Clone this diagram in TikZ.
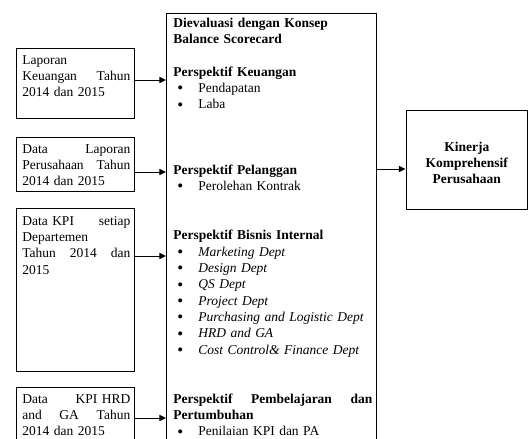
\documentclass[tikz,border=0pt]{standalone}
\usepackage{fontspec}
\setmainfont{Liberation Serif}
\usetikzlibrary{arrows.meta}
\newdimen\pxu \pxu=0.75pt
\newcommand\bitem[1]{\hspace*{4\pxu}\makebox[21\pxu][l]{\raisebox{-1.3\pxu}{\scalebox{1.25}{\textbullet}}}#1}
\begin{document}
\begin{tikzpicture}[x=0.75pt,y=-0.75pt,
  box/.style={draw=black, line width=0.75pt, inner sep=0pt},
  txt/.style={inner sep=0pt, anchor=base west, align=left, text width=81pt,
    font=\fontsize{10.125pt}{12.27pt}\selectfont},
  midtxt/.style={txt, text width=149.25pt},
  arr/.style={line width=0.75pt, -{Triangle[length=5pt,width=4.6pt]}}]
\useasboundingbox (0,0) rectangle (529,439);
\fill[white] (0,0) rectangle (529,439);
\clip (0,0) rectangle (529,439);

% boxes
\node[box, minimum width=88.5pt, minimum height=52.5pt] (b1) at (75,83) {};
\node[box, minimum width=88.5pt, minimum height=40.5pt] (b2) at (75,164) {};
\node[box, minimum width=88.5pt, minimum height=122.25pt] (b3) at (75,289.5) {};
\node[box, minimum width=88.5pt, minimum height=62.25pt] (b4) at (75,428.5) {};
\node[box, minimum width=157.125pt, minimum height=342.75pt] (mid) at (271.25,241.5) {};
\node[box, minimum width=91.125pt, minimum height=74.25pt] (rb) at (466.75,159.5) {};

% texts
\node[txt] (t1) at (22,64) {Laporan\\Keuangan\hfill Tahun\\2014 dan 2015};
\node[txt] (t2) at (22,153) {Data\hfill Laporan\\Perusahaan\hfill Tahun\\2014 dan 2015};
\node[txt] (t3) at (22,225) {Data KPI\hfill setiap\\Departemen\\Tahun\hfill 2014\hfill dan\\2015};
\node[txt] (t4) at (22,403) {Data\hfill KPI HRD\\and\hfill GA\hfill Tahun\\2014 dan 2015};

\node[midtxt] (mt) at (173,27) {%
\textbf{Dievaluasi dengan Konsep}\\
\textbf{Balance Scorecard}\\
\mbox{}\\
\textbf{Perspektif Keuangan}\\
\bitem{Pendapatan}\\
\bitem{Laba}\\
\mbox{}\\
\mbox{}\\
\mbox{}\\
\textbf{Perspektif Pelanggan}\\
\bitem{Perolehan Kontrak}\\
\mbox{}\\
\mbox{}\\
\textbf{Perspektif Bisnis Internal}\\
\bitem{\textit{Marketing Dept}}\\
\bitem{\textit{Design Dept}}\\
\bitem{\textit{QS Dept}}\\
\bitem{\textit{Project Dept}}\\
\bitem{\textit{Purchasing and Logistic Dept}}\\
\bitem{\textit{HRD and GA}}\\
\bitem{\textit{Cost Control\& Finance Dept}}\\
\mbox{}\\
\mbox{}\\
\textbf{Perspektif\hfill Pembelajaran\hfill dan}\\
\textbf{Pertumbuhan}\\
\bitem{Penilaian KPI dan PA}};

\node[txt, anchor=base, text width=82pt, align=center, font=\fontsize{10.125pt}{12.27pt}\selectfont\bfseries] (rt) at (466.75,151) {Kinerja\\Komprehensif\\Perusahaan};

% arrow levels
\coordinate (y1) at (0,80);
\coordinate (y2) at (0,172);
\coordinate (y3) at (0,256);
\coordinate (y4) at (0,418);
\coordinate (y5) at (0,169);

\draw[arr] (b1.east |- y1) -- (mid.west |- y1);
\draw[arr] (b2.east |- y2) -- (mid.west |- y2);
\draw[arr] (b3.east |- y3) -- (mid.west |- y3);
\draw[arr] (b4.east |- y4) -- (mid.west |- y4);
\draw[arr] (mid.east |- y5) -- (rb.west |- y5);
\end{tikzpicture}
\end{document}
